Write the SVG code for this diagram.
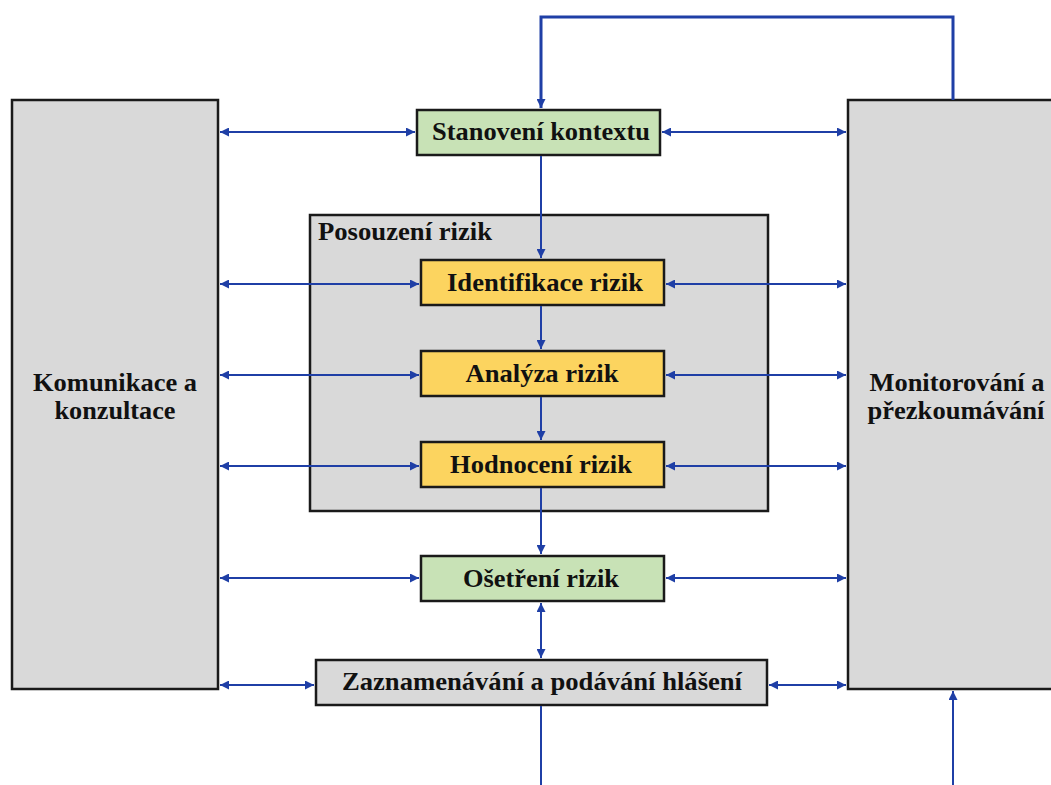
<svg xmlns="http://www.w3.org/2000/svg" width="1051" height="785" viewBox="0 0 1051 785">
<defs>
<marker id="ah" viewBox="0 0 10 10" refX="10" refY="5" markerWidth="10" markerHeight="9" markerUnits="userSpaceOnUse" orient="auto-start-reverse">
<path d="M0,0 L10,5 L0,10 z" fill="#1f3fa6"/>
</marker>
<style>
.box{stroke:#1a1a1a;stroke-width:2.5}
.gray{fill:#d9d9d9}
.green{fill:#c8e2b6}
.yellow{fill:#fcd45f}
.lbl{font-family:"Liberation Serif","Times New Roman",serif;font-weight:bold;font-size:25px;fill:#111;text-anchor:middle}
.con{stroke:#1f3fa6;stroke-width:2;fill:none}
.thick{stroke-width:3}
</style>
</defs>
<rect width="1051" height="785" fill="#ffffff"/>
<g id="komunikace">
<rect class="box gray" x="12" y="100" width="206" height="589"/>
<text class="lbl" x="115" y="391" textLength="164" lengthAdjust="spacingAndGlyphs">Komunikace a</text>
<text class="lbl" x="115" y="419" textLength="121" lengthAdjust="spacingAndGlyphs">konzultace</text>
</g>
<g id="monitorovani">
<rect class="box gray" x="848" y="100" width="215" height="589"/>
<text class="lbl" x="957" y="391" textLength="175" lengthAdjust="spacingAndGlyphs">Monitorování a</text>
<text class="lbl" x="956" y="419" textLength="177" lengthAdjust="spacingAndGlyphs">přezkoumávání</text>
</g>
<g id="posouzeni">
<rect class="box gray" x="310" y="215" width="458" height="296"/>
<text class="lbl" x="318" y="240" style="text-anchor:start" textLength="174" lengthAdjust="spacingAndGlyphs">Posouzení rizik</text>
</g>
<g id="stanoveni">
<rect class="box green" x="417" y="110" width="243" height="45"/>
<text class="lbl" x="541" y="140" textLength="218" lengthAdjust="spacingAndGlyphs">Stanovení kontextu</text>
</g>
<g id="identifikace">
<rect class="box yellow" x="421" y="260" width="243" height="45"/>
<text class="lbl" x="545" y="291" textLength="196" lengthAdjust="spacingAndGlyphs">Identifikace rizik</text>
</g>
<g id="analyza">
<rect class="box yellow" x="421" y="351" width="243" height="45"/>
<text class="lbl" x="542" y="382" textLength="153" lengthAdjust="spacingAndGlyphs">Analýza rizik</text>
</g>
<g id="hodnoceni">
<rect class="box yellow" x="421" y="442" width="243" height="45"/>
<text class="lbl" x="541" y="473" textLength="182" lengthAdjust="spacingAndGlyphs">Hodnocení rizik</text>
</g>
<g id="osetreni">
<rect class="box green" x="421" y="556" width="243" height="45"/>
<text class="lbl" x="541" y="587" textLength="156" lengthAdjust="spacingAndGlyphs">Ošetření rizik</text>
</g>
<g id="zaznamenavani">
<rect class="box gray" x="316" y="660" width="451" height="45"/>
<text class="lbl" x="542" y="690" textLength="400" lengthAdjust="spacingAndGlyphs">Zaznamenávání a podávání hlášení</text>
</g>
<g id="connectors">
<path class="con thick" d="M953,100 V17 H541 V108" marker-end="url(#ah)"/>
<path class="con" d="M541,156 V258" marker-end="url(#ah)"/>
<path class="con" d="M541,306 V349" marker-end="url(#ah)"/>
<path class="con" d="M541,397 V440" marker-end="url(#ah)"/>
<path class="con" d="M541,488 V554" marker-end="url(#ah)"/>
<path class="con" d="M541,603 V658" marker-start="url(#ah)" marker-end="url(#ah)"/>
<path class="con" d="M541,706 V785"/>
<path class="con" d="M953,785 V691" marker-end="url(#ah)"/>
<path class="con" d="M220,132 H415" marker-start="url(#ah)" marker-end="url(#ah)"/>
<path class="con" d="M662,132 H846" marker-start="url(#ah)" marker-end="url(#ah)"/>
<path class="con" d="M220,284 H419" marker-start="url(#ah)" marker-end="url(#ah)"/>
<path class="con" d="M666,284 H846" marker-start="url(#ah)" marker-end="url(#ah)"/>
<path class="con" d="M220,375 H419" marker-start="url(#ah)" marker-end="url(#ah)"/>
<path class="con" d="M666,375 H846" marker-start="url(#ah)" marker-end="url(#ah)"/>
<path class="con" d="M220,466 H419" marker-start="url(#ah)" marker-end="url(#ah)"/>
<path class="con" d="M666,466 H846" marker-start="url(#ah)" marker-end="url(#ah)"/>
<path class="con" d="M220,578 H419" marker-start="url(#ah)" marker-end="url(#ah)"/>
<path class="con" d="M666,578 H846" marker-start="url(#ah)" marker-end="url(#ah)"/>
<path class="con" d="M220,685 H314" marker-start="url(#ah)" marker-end="url(#ah)"/>
<path class="con" d="M769,685 H846" marker-start="url(#ah)" marker-end="url(#ah)"/>
</g>
</svg>
